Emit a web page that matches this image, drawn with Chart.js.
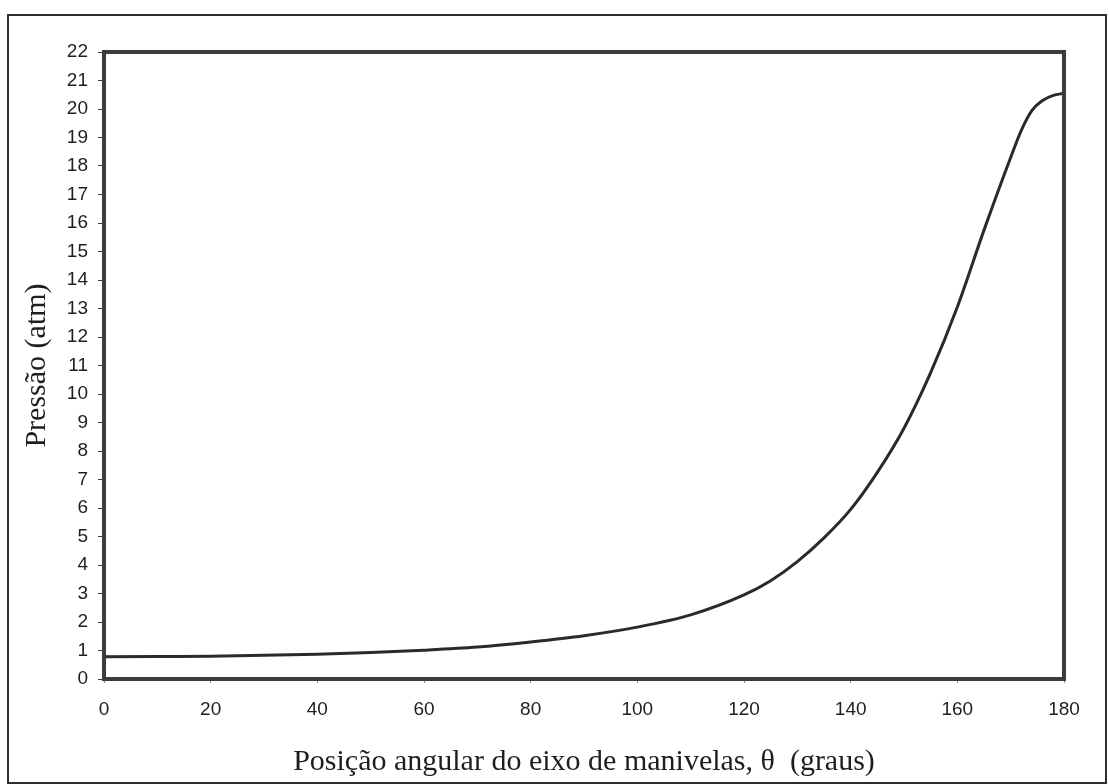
<!DOCTYPE html>
<html>
<head>
<meta charset="utf-8">
<script src="https://cdn.jsdelivr.net/npm/chart.js@4/dist/chart.umd.min.js"></script>
<style>
  html, body { margin: 0; padding: 0; background: #ffffff; }
  #wrap { width: 1109px; height: 784px; position: relative; }
</style>
</head>
<body>
<div id="wrap"><canvas id="c" width="1109" height="784"></canvas></div>
<script>
// Crank angle (degrees) and cylinder pressure (atm)
const angleDeg = [0, 10, 20, 30, 40, 50, 60, 70, 80, 90, 100, 110, 120, 125, 130, 135, 140, 145, 150, 155, 160, 165, 170, 172, 174, 176, 178, 180];
const pressureAtm = [0.78, 0.79, 0.80, 0.83, 0.87, 0.93, 1.01, 1.12, 1.30, 1.52, 1.82, 2.25, 2.95, 3.45, 4.12, 4.95, 5.95, 7.25, 8.8, 10.75, 13.05, 15.75, 18.3, 19.25, 19.95, 20.3, 20.48, 20.55];

// Axis ranges and titles
const xTickValues = [0, 20, 40, 60, 80, 100, 120, 140, 160, 180];
const yTickValues = [0, 1, 2, 3, 4, 5, 6, 7, 8, 9, 10, 11, 12, 13, 14, 15, 16, 17, 18, 19, 20, 21, 22];
const xTitle = 'Posição angular do eixo de manivelas, θ  (graus)';
const yTitle = 'Pressão (atm)';

const points = angleDeg.map((a, i) => ({ x: a, y: pressureAtm[i] }));

// Outer page frame plus the heavy box around the plot area
const frames = {
  id: 'frames',
  beforeDraw(chart) {
    const ctx = chart.ctx;
    ctx.save();
    ctx.fillStyle = '#ffffff';
    ctx.fillRect(0, 0, chart.width, chart.height);
    ctx.strokeStyle = '#2e2e2e';
    ctx.lineWidth = 2;
    ctx.strokeRect(8, 15, 1098, 768);
    ctx.restore();
  },
  afterDatasetsDraw(chart) {
    const a = chart.chartArea;
    const ctx = chart.ctx;
    ctx.save();
    ctx.strokeStyle = '#3c3c3c';
    ctx.lineWidth = 4;
    ctx.strokeRect(a.left, a.top, a.right - a.left, a.bottom - a.top);
    ctx.restore();
  }
};

new Chart(document.getElementById('c'), {
  type: 'line',
  data: {
    datasets: [{
      data: points,
      borderColor: '#2a2a2a',
      borderWidth: 3,
      pointRadius: 0,
      fill: false,
      cubicInterpolationMode: 'monotone'
    }]
  },
  options: {
    responsive: false,
    animation: false,
    devicePixelRatio: 1,
    layout: { padding: { top: 52, right: 45, bottom: 0, left: 0 } },
    plugins: { legend: { display: false }, tooltip: { enabled: false } },
    scales: {
      x: {
        type: 'linear',
        min: 0,
        max: 180,
        afterBuildTicks(scale) { scale.ticks = xTickValues.map(v => ({ value: v })); },
        afterFit(scale) { scale.height = 105; },
        grid: { drawOnChartArea: false, drawTicks: true, tickLength: 4, tickColor: '#888888' },
        border: { display: false },
        ticks: {
          color: '#1e1e1e',
          padding: 15,
          maxRotation: 0,
          autoSkip: false,
          font: { family: '"Liberation Sans", Arial, sans-serif', size: 19 }
        },
        title: {
          display: true,
          text: xTitle,
          color: '#1e1e1e',
          padding: { top: 0, bottom: 4 },
          font: { family: '"Liberation Serif", "Times New Roman", serif', size: 30 }
        }
      },
      y: {
        type: 'linear',
        min: 0,
        max: 22,
        afterBuildTicks(scale) { scale.ticks = yTickValues.map(v => ({ value: v })); },
        afterFit(scale) { scale.width = 104; },
        grid: { drawOnChartArea: false, drawTicks: true, tickLength: 6, tickColor: '#3c3c3c' },
        border: { display: false },
        ticks: {
          color: '#1e1e1e',
          padding: 10,
          autoSkip: false,
          font: { family: '"Liberation Sans", Arial, sans-serif', size: 19 }
        },
        title: {
          display: true,
          text: yTitle,
          color: '#1e1e1e',
          padding: { top: 19, bottom: 0 },
          font: { family: '"Liberation Serif", "Times New Roman", serif', size: 30 }
        }
      }
    }
  },
  plugins: [frames]
});
</script>
</body>
</html>
